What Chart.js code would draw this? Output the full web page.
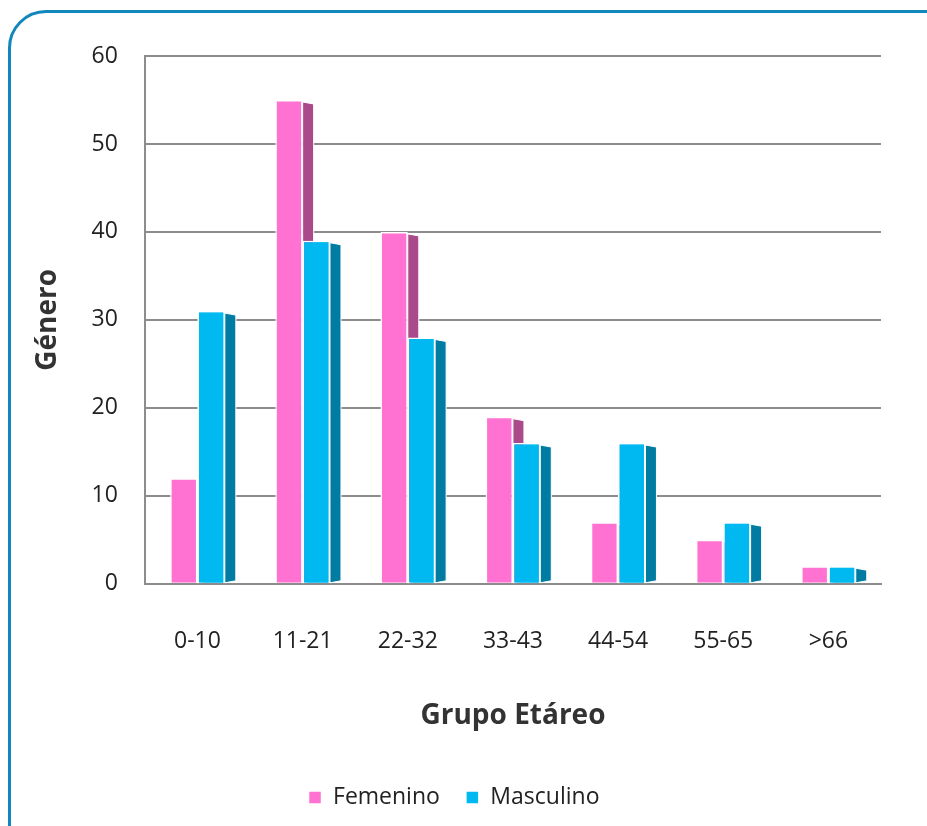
<!DOCTYPE html>
<html>
<head>
<meta charset="utf-8">
<script src="https://cdn.jsdelivr.net/npm/chart.js@4/dist/chart.umd.min.js"></script>
<style>
  html, body { margin: 0; padding: 0; background: #fff; overflow: hidden; }
  #frame {
    position: absolute; left: 8px; top: 10px; width: 960px; height: 860px;
    border: 3px solid #1287bd; border-radius: 38px; box-sizing: border-box;
  }
  #wrap { position: absolute; left: 0; top: 0; width: 927px; height: 826px; }
</style>
</head>
<body>
<div id="frame"></div>
<div id="wrap"><canvas id="chart"></canvas></div>
<script>
const categories = ['0-10', '11-21', '22-32', '33-43', '44-54', '55-65', '>66'];
const femenino = [12, 55, 40, 19, 7, 5, 2];
const masculino = [31, 39, 28, 16, 16, 7, 2];
const yTicks = [0, 10, 20, 30, 40, 50, 60];

function drawSide(ctx, bar, color) {
  const depth = 11;
  const xr = bar.x + bar.width / 2;
  ctx.beginPath();
  ctx.moveTo(xr, bar.y + 2);
  ctx.lineTo(xr + depth, bar.y + 4);
  ctx.lineTo(xr + depth, bar.base - 2);
  ctx.lineTo(xr, bar.base);
  ctx.closePath();
  ctx.fillStyle = color;
  ctx.fill();
  ctx.strokeStyle = '#fff';
  ctx.lineWidth = 1;
  ctx.stroke();
}

// 3D look: side of the pink bar, then the blue bar again on top of it, then its side
const sideFaces = {
  id: 'sideFaces',
  afterDatasetsDraw(chart) {
    const ctx = chart.ctx;
    const fem = chart.getDatasetMeta(0);
    const masc = chart.getDatasetMeta(1);
    ctx.save();
    fem.data.forEach((bar, i) => {
      drawSide(ctx, bar, chart.data.datasets[0].sideColor);
      masc.data[i].draw(ctx);
      drawSide(ctx, masc.data[i], chart.data.datasets[1].sideColor);
    });
    ctx.restore();
  }
};

new Chart(document.getElementById('chart'), {
  type: 'bar',
  data: {
    labels: categories,
    datasets: [
      {
        label: 'Femenino',
        data: femenino,
        backgroundColor: '#ff72d2',
        sideColor: '#ab4a8b',
        borderColor: '#ffffff',
        borderWidth: 1.5
      },
      {
        label: 'Masculino',
        data: masculino,
        backgroundColor: '#00b9f1',
        sideColor: '#007ca2',
        borderColor: '#ffffff',
        borderWidth: 1.5
      }
    ]
  },
  plugins: [sideFaces],
  options: {
    responsive: true,
    maintainAspectRatio: false,
    animation: false,
    categoryPercentage: 0.52,
    barPercentage: 1.0,
    layout: { padding: { left: 27, right: 46, top: 56, bottom: 7 } },
    plugins: {
      legend: {
        position: 'bottom',
        labels: {
          boxWidth: 13,
          boxHeight: 13,
          padding: 26,
          color: '#222',
          font: { family: 'Open Sans', size: 23 }
        }
      },
      tooltip: { enabled: false }
    },
    scales: {
      x: {
        grid: { display: false, drawTicks: false },
        border: { display: true, color: '#8c8c8c', width: 2 },
        ticks: {
          color: '#222',
          padding: 44,
          font: { family: 'Open Sans', size: 23 }
        },
        title: {
          display: true,
          text: 'Grupo Etáreo',
          color: '#333',
          padding: { top: 0, bottom: 27 },
          font: { family: 'Open Sans', size: 28, weight: 'bold' }
        }
      },
      y: {
        min: 0,
        max: 60,
        afterBuildTicks(axis) {
          axis.ticks = yTicks.map(v => ({ value: v }));
        },
        grid: { color: '#8c8c8c', lineWidth: 2, drawTicks: false },
        border: { display: true, color: '#8c8c8c', width: 2 },
        ticks: {
          color: '#222',
          padding: 27,
          font: { family: 'Open Sans', size: 23 }
        },
        title: {
          display: true,
          text: 'Género',
          color: '#333',
          padding: { bottom: 0 },
          font: { family: 'Open Sans', size: 28, weight: 'bold' }
        }
      }
    }
  }
});
</script>
</body>
</html>
